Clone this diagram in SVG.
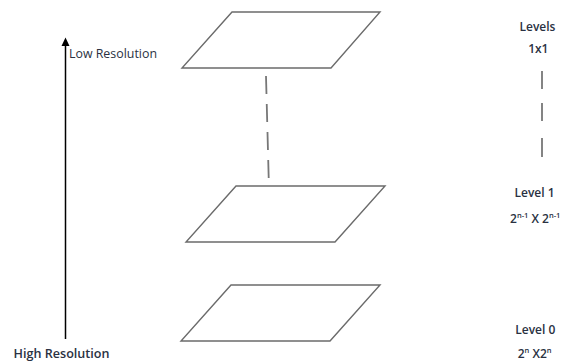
<svg xmlns="http://www.w3.org/2000/svg" width="568" height="362" viewBox="0 0 568 362">
<style>
.plane{fill:#fff;stroke:#6b6b6b;stroke-width:1.4;stroke-linejoin:miter}
.lbl{font-family:"Open Sans","Liberation Sans",sans-serif;font-size:12px;font-weight:600;fill:#2a3142}
.sup{font-size:7.5px}
.dash{stroke:#777;stroke-width:1.8;fill:none}
</style>
<rect width="568" height="362" fill="#fff"/>
<g id="axis">
<line x1="65.5" y1="339" x2="65.5" y2="46" stroke="#000" stroke-width="1.5"/>
<path d="M61.5,46 L65.5,37.5 L69.5,46 Z" fill="#000"/>
<text class="lbl" x="69" y="58" textLength="88" lengthAdjust="spacingAndGlyphs" style="font-weight:500">Low Resolution</text>
<text class="lbl" x="13.5" y="357.5" textLength="96" lengthAdjust="spacingAndGlyphs">High Resolution</text>
</g>
<g id="level-top">
<polygon class="plane" points="232,12 380,12 331,68 182,68"/>
</g>
<g id="level-1">
<polygon class="plane" points="236,186 385,186 335,242 186,242"/>
</g>
<g id="level-0">
<polygon class="plane" points="231,285 380,285 330,341 181,341"/>
</g>
<g id="connectors">
<line class="dash" x1="266" y1="76" x2="268.7" y2="178" stroke-dasharray="18,10" stroke-width="2"/>
<line class="dash" x1="542" y1="71" x2="542" y2="89"/>
<line class="dash" x1="542" y1="103" x2="542" y2="121"/>
<line class="dash" x1="542" y1="138" x2="542" y2="157"/>
</g>
<g id="labels">
<text class="lbl" x="537.5" y="30.5" text-anchor="middle">Levels</text>
<text class="lbl" x="538.3" y="52.5" text-anchor="middle">1x1</text>
<text class="lbl" x="534.5" y="196.7" text-anchor="middle">Level 1</text>
<text class="lbl" x="510" y="223.3">2<tspan class="sup" dy="-5">n-1</tspan><tspan dy="5"> X 2</tspan><tspan class="sup" dy="-5">n-1</tspan></text>
<text class="lbl" x="535.3" y="333.5" text-anchor="middle">Level 0</text>
<text class="lbl" x="517.7" y="357.5">2<tspan class="sup" dy="-5">n</tspan><tspan dy="5"> X2</tspan><tspan class="sup" dy="-5">n</tspan></text>
</g>
</svg>
